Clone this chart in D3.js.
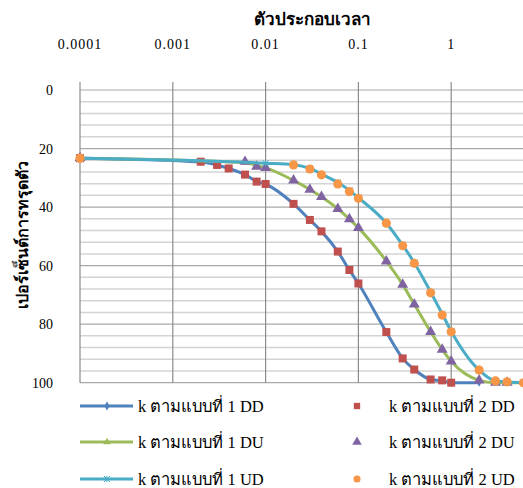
<!DOCTYPE html>
<html>
<head>
<meta charset="utf-8">
<script src="https://cdn.jsdelivr.net/npm/d3@7"></script>
<style>
  body { margin: 0; background: #fff; }
  text { font-family: "Liberation Serif", "DejaVu Serif", serif; fill: #000; }
</style>
</head>
<body>
<div id="chart"></div>
<script>
// time factor (x) and percent settlement (y)
const tDD1 = [0.0001, 0.002, 0.003, 0.004, 0.006, 0.008, 0.01, 0.02, 0.03, 0.04, 0.06, 0.08, 0.1, 0.2, 0.3, 0.4, 0.6, 0.8, 1, 2];
const uDD1 = [23.3, 24.6, 25.6, 26.8, 28.9, 31.2, 32.2, 38.9, 44.4, 48.3, 55.2, 61.5, 66.1, 82.7, 91.7, 95.5, 98.9, 99.3, 100, 100];
const tDD2 = [0.0001, 0.002, 0.003, 0.004, 0.006, 0.008, 0.01, 0.02, 0.03, 0.04, 0.06, 0.08, 0.1, 0.2, 0.3, 0.4, 0.6, 0.8, 1];
const uDD2 = [23.3, 24.5, 25.6, 26.8, 28.9, 31.3, 32.1, 38.9, 44.4, 48.3, 55.2, 61.5, 66.1, 82.7, 91.7, 95.5, 98.9, 99.2, 100];

const tDU1 = [0.0001, 0.006, 0.008, 0.01, 0.02, 0.03, 0.04, 0.06, 0.08, 0.1, 0.2, 0.3, 0.4, 0.6, 0.8, 1, 2, 3, 4, 6];
const uDU1 = [23.3, 24.8, 25.8, 26.6, 30.9, 34.0, 36.5, 40.6, 44.1, 47.1, 58.5, 66.5, 73.2, 82.6, 88.7, 92.7, 99.2, 100, 100, 100];
const tDU2 = [0.0001, 0.006, 0.008, 0.01, 0.02, 0.03, 0.04, 0.06, 0.08, 0.1, 0.2, 0.3, 0.4, 0.6, 0.8, 1, 2, 3, 4];
const uDU2 = [23.3, 24.5, 26.2, 26.6, 30.9, 34.0, 36.5, 40.6, 44.1, 47.1, 58.5, 66.5, 73.2, 82.6, 88.7, 92.7, 99.2, 100, 100];

const tUD1 = [0.0001, 0.01, 0.02, 0.03, 0.04, 0.06, 0.08, 0.1, 0.2, 0.3, 0.4, 0.6, 0.8, 1, 2, 3, 4, 6];
const uUD1 = [23.3, 25.0, 25.5, 26.8, 28.7, 31.6, 34.3, 36.8, 45.5, 53.0, 59.0, 69.0, 76.5, 82.4, 95.7, 99.4, 99.7, 100];
const tUD2 = [0.0001, 0.02, 0.03, 0.04, 0.06, 0.08, 0.1, 0.2, 0.3, 0.4, 0.6, 0.8, 1, 2, 3, 4, 6];
const uUD2 = [23.3, 25.6, 27.0, 29.0, 32.1, 34.7, 37.0, 45.5, 53.2, 59.2, 69.3, 76.9, 82.6, 95.7, 99.4, 99.7, 100];

const xTicks = [0.0001, 0.001, 0.01, 0.1, 1];
const yTicks = [0, 20, 40, 60, 80, 100];

const width = 523;
const height = 488;

const svg = d3.select("#chart").append("svg")
  .attr("width", width)
  .attr("height", height);

const x = d3.scaleLog().domain([0.0001, 10]).range([80, 544]);
const y = d3.scaleLinear().domain([0, 100]).range([90, 382.7]);

// horizontal grid: minor every 4, major every 20
const grid = svg.append("g");
grid.selectAll("line.minor")
  .data(d3.range(0, 101, 4).filter(v => v % 20 !== 0))
  .enter().append("line")
  .attr("x1", 80).attr("x2", width)
  .attr("y1", d => y(d)).attr("y2", d => y(d))
  .attr("stroke", "#d4d4d4").attr("stroke-width", 1.5);
grid.selectAll("line.major")
  .data(yTicks)
  .enter().append("line")
  .attr("x1", 80).attr("x2", width)
  .attr("y1", d => y(d)).attr("y2", d => y(d))
  .attr("stroke", "#a8a8a8").attr("stroke-width", 1.2);

// vertical grid at decades (extends up as tick marks)
grid.selectAll("line.v")
  .data(xTicks)
  .enter().append("line")
  .attr("x1", d => x(d)).attr("x2", d => x(d))
  .attr("y1", 82).attr("y2", y(100))
  .attr("stroke", "#8c8c8c").attr("stroke-width", 1.2);

// top axis labels
svg.append("g").selectAll("text")
  .data(xTicks)
  .enter().append("text")
  .attr("x", d => x(d))
  .attr("y", 49)
  .attr("text-anchor", "middle")
  .attr("font-size", 14)
  .style("letter-spacing", "1px")
  .text(d => d3.format("")(d));

svg.append("text")
  .attr("x", 312).attr("y", 25)
  .attr("text-anchor", "middle")
  .attr("font-size", 17).attr("font-weight", "bold")
  .text("ตัวประกอบเวลา");

// left labels
svg.append("g").selectAll("text")
  .data(yTicks)
  .enter().append("text")
  .attr("x", 53)
  .attr("y", d => y(d) + 5)
  .attr("text-anchor", "end")
  .attr("font-size", 14)
  .text(d => d);

svg.append("text")
  .attr("transform", "translate(28,235) rotate(-90)")
  .attr("text-anchor", "middle")
  .attr("font-size", 16).attr("font-weight", "bold")
  .text("เปอร์เซ็นต์การทรุดตัว");

const line = d3.line()
  .x(d => x(d[0]))
  .y(d => y(d[1]))
  .curve(d3.curveMonotoneX);

const zip = (a, b) => a.map((v, i) => [v, b[i]]);

const blue = "#4F81BD", red = "#C0504D", green = "#9BBB59",
      purple = "#8064A2", cyan = "#4BACC6", orange = "#F79646";

// little cross-with-stem glyph for the star marker
const symbolStar = {
  draw(ctx, size) {
    const r = Math.sqrt(size) / 2;
    ctx.moveTo(-r, -r); ctx.lineTo(r, r);
    ctx.moveTo(r, -r); ctx.lineTo(-r, r);
    ctx.moveTo(0, -r); ctx.lineTo(0, r);
  }
};

const series = [
  { name: "k ตามแบบที่ 1 DD", kind: "line", color: blue, sym: d3.symbolDiamond, data: zip(tDD1, uDD1) },
  { name: "k ตามแบบที่ 2 DD", kind: "dot", color: red, sym: d3.symbolSquare, size: 64, data: zip(tDD2, uDD2) },
  { name: "k ตามแบบที่ 1 DU", kind: "line", color: green, sym: d3.symbolTriangle, data: zip(tDU1, uDU1) },
  { name: "k ตามแบบที่ 2 DU", kind: "dot", color: purple, sym: d3.symbolTriangle, size: 52, data: zip(tDU2, uDU2) },
  { name: "k ตามแบบที่ 1 UD", kind: "line", color: cyan, sym: symbolStar, data: zip(tUD1, uUD1) },
  { name: "k ตามแบบที่ 2 UD", kind: "dot", color: orange, sym: d3.symbolCircle, size: 66, data: zip(tUD2, uUD2) }
];

function marker(sel, s, size) {
  if (s.sym === symbolStar) {
    sel.attr("d", d3.symbol(s.sym, 40)).attr("fill", "none").attr("stroke", s.color).attr("stroke-width", 1);
  } else {
    sel.attr("d", d3.symbol(s.sym, size)).attr("fill", s.color);
  }
}

const plot = svg.append("g");
series.forEach(s => {
  if (s.kind === "line") {
    plot.append("path")
      .datum(s.data)
      .attr("fill", "none")
      .attr("stroke", s.color)
      .attr("stroke-width", 3)
      .attr("d", line);
    plot.append("g").selectAll("path")
      .data(s.data)
      .enter().append("path")
      .attr("transform", d => `translate(${x(d[0])},${y(d[1])})`)
      .call(marker, s, 18);
  } else {
    plot.append("g").selectAll("path")
      .data(s.data)
      .enter().append("path")
      .attr("transform", d => `translate(${x(d[0])},${y(d[1])})`)
      .call(marker, s, s.size);
  }
});

// legend, two columns
const rowsY = [406, 442, 479];
const legend = svg.append("g");
series.forEach((s, i) => {
  const col = i % 2, row = Math.floor(i / 2);
  const g = legend.append("g").attr("transform", `translate(0,${rowsY[row]})`);
  if (col === 0) {
    g.append("line").attr("x1", 80).attr("x2", 133).attr("y1", 0).attr("y2", 0)
      .attr("stroke", s.color).attr("stroke-width", 3);
    g.append("path").attr("transform", "translate(107,0)").call(marker, s, 24);
    g.append("text").attr("x", 138).attr("y", 6).attr("font-size", 16.5).text(s.name);
  } else {
    g.append("path").attr("transform", "translate(357,0)").call(marker, s, 40);
    g.append("text").attr("x", 389).attr("y", 6).attr("font-size", 16.5).text(s.name);
  }
});
</script>
</body>
</html>
